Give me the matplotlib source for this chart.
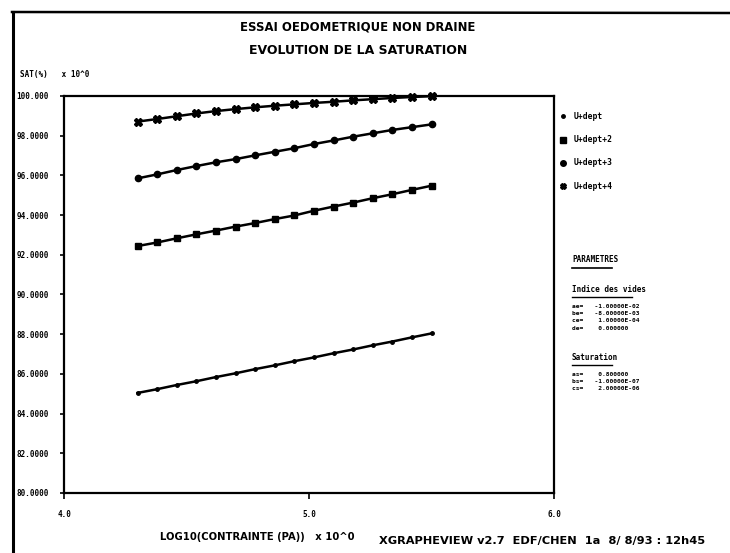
import matplotlib
matplotlib.use("Agg")
import matplotlib.pyplot as plt
from matplotlib.lines import Line2D

# ---- data ----
log_stress = [4.30, 4.38, 4.46, 4.54, 4.62, 4.70, 4.78, 4.86,
              4.94, 5.02, 5.10, 5.18, 5.26, 5.34, 5.42, 5.50]
sat_u1 = [85.04, 85.23, 85.44, 85.63, 85.84, 86.03, 86.24, 86.43,
          86.64, 86.83, 87.04, 87.23, 87.44, 87.63, 87.84, 88.04]
sat_u2 = [92.44, 92.62, 92.83, 93.03, 93.22, 93.42, 93.60, 93.80,
          93.98, 94.22, 94.43, 94.63, 94.85, 95.05, 95.27, 95.48]
sat_u3 = [95.85, 96.05, 96.27, 96.47, 96.66, 96.82, 97.01, 97.19,
          97.37, 97.58, 97.76, 97.95, 98.12, 98.29, 98.43, 98.57]
sat_u4 = [98.71, 98.84, 98.98, 99.12, 99.24, 99.34, 99.43, 99.51,
          99.58, 99.65, 99.71, 99.78, 99.84, 99.90, 99.95, 99.99]
series_names = ["U+dept", "U+dept+2", "U+dept+3", "U+dept+4"]
y_ticks = [80, 82, 84, 86, 88, 90, 92, 94, 96, 98, 100]
y_tick_labels = ["80.0000", "82.0000", "84.0000", "86.0000", "88.0000", "90.0000",
                 "92.0000", "94.0000", "96.0000", "98.0000", "100.000"]
x_ticks = [4.0, 5.0, 6.0]
x_tick_labels = ["4.0", "5.0", "6.0"]
param_lines_1 = ["ae=   -1.00000E-02", "be=   -8.00000E-03", "ce=    1.00000E-04", "de=    0.000000"]
param_lines_2 = ["as=    0.800000", "bs=   -1.00000E-07", "cs=    2.00000E-06"]

W, H = 730, 553
fig = plt.figure(figsize=(W / 100, H / 100), dpi=100)
fig.patch.set_facecolor("white")

mono = ["DejaVu Sans Mono"]
sans = ["DejaVu Sans"]

def fx(px):
    return px / W

def fy(py):
    return 1 - py / H

ax = fig.add_axes([fx(64), fy(493), fx(554) - fx(64), fy(96) - fy(493)])
ax.set_xlim(4.0, 6.0)
ax.set_ylim(80, 100)

series = [sat_u1, sat_u2, sat_u3, sat_u4]
markers = ["o", "s", "o", "X"]
msizes = [2.5, 4.5, 4.5, 5.5]
for vals, m, ms, name in zip(series, markers, msizes, series_names):
    ax.plot(log_stress, vals, color="black", lw=1.8, marker=m, ms=ms,
            mfc="black", mec="black", label=name, clip_on=False)

for s in ["left", "bottom", "top", "right"]:
    ax.spines[s].set_linewidth(1.6)

ax.set_yticks(y_ticks)
ax.set_yticklabels(y_tick_labels, family=mono, fontsize=5.5, fontweight="bold")
ax.set_xticks(x_ticks)
ax.set_xticklabels(x_tick_labels, family=mono, fontsize=5.5, fontweight="bold")
ax.tick_params(axis="y", direction="out", length=3, width=1.2, pad=8)
ax.tick_params(axis="x", direction="out", length=4, width=1.2, pad=8)

# legend
handles = [Line2D([], [], ls="none", marker=m, ms=min(ms, 4), color="black") for m, ms in zip(markers, msizes)]
leg = fig.legend(handles, series_names, loc="upper left", bbox_to_anchor=(fx(556), fy(109)),
                 frameon=False, prop={"family": mono, "size": 5.8, "weight": "bold"},
                 handlelength=1.0, handletextpad=0.8, labelspacing=1.75, borderaxespad=0)

# titles
fig.text(fx(358), fy(27), "ESSAI OEDOMETRIQUE NON DRAINE", ha="center", va="center",
         family=sans, fontsize=8.4, fontweight="bold")
fig.text(fx(358), fy(50), "EVOLUTION DE LA SATURATION", ha="center", va="center",
         family=sans, fontsize=9.0, fontweight="bold")
fig.text(fx(20), fy(74), "SAT(%)   x 10^0", ha="left", va="center",
         family=mono, fontsize=5.5, fontweight="bold")
fig.text(fx(160), fy(537), "LOG10(CONTRAINTE (PA))   x 10^0", ha="left", va="center",
         family=sans, fontsize=7.2, fontweight="bold")
fig.text(fx(379), fy(541), "XGRAPHEVIEW v2.7  EDF/CHEN  1a  8/ 8/93 : 12h45", ha="left", va="center",
         family=sans, fontsize=8.2, fontweight="bold")

# parameters block
px0 = 572
fs = 4.5
step = 7.5
fig.text(fx(px0), fy(260), "PARAMETRES", ha="left", va="center", family=mono, fontsize=5.5, fontweight="bold")
fig.add_artist(Line2D([fx(px0), fx(px0 + 40)], [fy(268), fy(268)], color="black", lw=1.2))
fig.text(fx(px0), fy(289), "Indice des vides", ha="left", va="center", family=mono, fontsize=5.5, fontweight="bold")
fig.add_artist(Line2D([fx(px0), fx(px0 + 60)], [fy(297), fy(297)], color="black", lw=1.0))
for i, t in enumerate(param_lines_1):
    fig.text(fx(px0), fy(306 + step * i), t, ha="left", va="center", family=mono, fontsize=fs, fontweight="bold")
fig.text(fx(px0), fy(357), "Saturation", ha="left", va="center", family=mono, fontsize=5.5, fontweight="bold")
fig.add_artist(Line2D([fx(px0), fx(px0 + 40)], [fy(365), fy(365)], color="black", lw=1.0))
for i, t in enumerate(param_lines_2):
    fig.text(fx(px0), fy(374 + step * i), t, ha="left", va="center", family=mono, fontsize=fs, fontweight="bold")

# page border (scan frame)
fig.add_artist(Line2D([fx(13), fx(13)], [fy(12), 0], color="black", lw=2.2))
fig.add_artist(Line2D([fx(12), 1], [fy(12), fy(13)], color="black", lw=1.8))

fig.savefig("out.png", dpi=100, facecolor="white")
